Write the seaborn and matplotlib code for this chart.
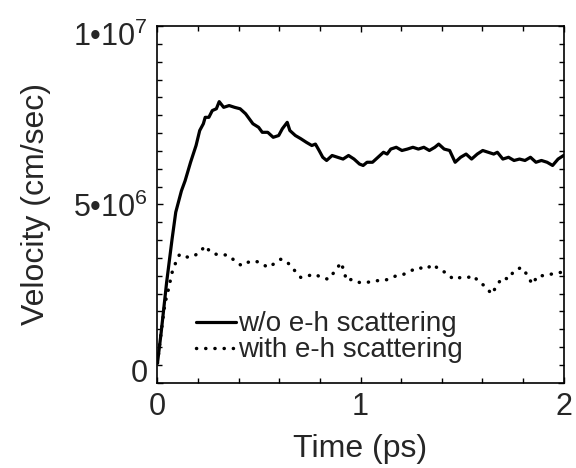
import numpy as np
import pandas as pd
import matplotlib
matplotlib.use("Agg")
import matplotlib.pyplot as plt
from matplotlib.ticker import MultipleLocator
from matplotlib.transforms import ScaledTranslation
from matplotlib.lines import Line2D
import seaborn as sns

# ---- data (velocity in units of 1e6 cm/sec, time in ps) ----
t_wo = [0, 0.018, 0.045, 0.072, 0.09, 0.118, 0.136, 0.163, 0.19, 0.208, 0.226, 0.235,
        0.253, 0.27, 0.29, 0.304, 0.326, 0.353, 0.38, 0.407, 0.434, 0.47, 0.498, 0.516,
        0.543, 0.57, 0.597, 0.615, 0.639, 0.652, 0.679, 0.706, 0.733, 0.76, 0.778, 0.796,
        0.814, 0.833, 0.86, 0.887, 0.914, 0.941, 0.968, 0.995, 1.013, 1.032, 1.059, 1.086,
        1.113, 1.131, 1.149, 1.176, 1.204, 1.231, 1.258, 1.285, 1.312, 1.339, 1.366, 1.385,
        1.412, 1.439, 1.466, 1.493, 1.52, 1.547, 1.575, 1.602, 1.629, 1.656, 1.674, 1.701,
        1.729, 1.756, 1.783, 1.81, 1.837, 1.864, 1.891, 1.919, 1.946, 1.973, 2.0]
v_wo = [0.55, 1.40, 2.81, 4.03, 4.78, 5.38, 5.66, 6.18, 6.65, 7.07, 7.26, 7.44, 7.44, 7.63,
        7.68, 7.88, 7.72, 7.77, 7.72, 7.68, 7.54, 7.26, 7.16, 7.02, 7.02, 6.88, 6.93, 7.12,
        7.30, 7.07, 6.93, 6.84, 6.74, 6.65, 6.69, 6.51, 6.32, 6.23, 6.37, 6.32, 6.27, 6.37,
        6.27, 6.13, 6.09, 6.18, 6.18, 6.32, 6.46, 6.41, 6.55, 6.60, 6.51, 6.55, 6.60, 6.55,
        6.60, 6.51, 6.60, 6.69, 6.55, 6.51, 6.18, 6.32, 6.41, 6.27, 6.41, 6.51, 6.46, 6.41,
        6.46, 6.27, 6.32, 6.23, 6.27, 6.23, 6.32, 6.18, 6.23, 6.18, 6.09, 6.27, 6.37]

t_with = [0, 0.018, 0.036, 0.054, 0.072, 0.09, 0.109, 0.127, 0.154, 0.181, 0.208, 0.235,
          0.262, 0.29, 0.317, 0.353, 0.389, 0.416, 0.443, 0.47, 0.507, 0.543, 0.57, 0.606,
          0.633, 0.67, 0.706, 0.742, 0.778, 0.805, 0.842, 0.869, 0.905, 0.932, 0.959, 0.995,
          1.032, 1.068, 1.104, 1.14, 1.176, 1.213, 1.249, 1.285, 1.321, 1.357, 1.394, 1.421,
          1.457, 1.493, 1.529, 1.557, 1.584, 1.611, 1.647, 1.674, 1.701, 1.729, 1.756, 1.792,
          1.819, 1.846, 1.873, 1.91, 1.937, 1.973, 2.0]
v_with = [0.55, 1.40, 2.20, 2.62, 3.09, 3.37, 3.60, 3.56, 3.51, 3.56, 3.65, 3.84, 3.65,
          3.60, 3.60, 3.56, 3.37, 3.28, 3.37, 3.42, 3.37, 3.23, 3.32, 3.46, 3.42, 3.18, 2.95,
          3.00, 3.04, 2.95, 2.90, 3.09, 3.37, 2.86, 2.90, 2.81, 2.81, 2.86, 2.86, 2.90, 3.00,
          3.04, 3.14, 3.23, 3.18, 3.32, 3.14, 3.09, 2.90, 2.95, 2.95, 3.00, 2.81, 2.72, 2.48,
          2.76, 2.95, 2.90, 3.14, 3.23, 3.04, 2.76, 3.00, 3.00, 3.04, 3.09, 3.09]

labels = ["w/o e-h scattering", "with e-h scattering"]
y_ticks = [0, 5e6, 1e7]
y_ticklabels = ["0", "5\u202210$^{6}$", "1\u202210$^{7}$"]
x_ticks = [0, 1, 2]

df_wo = pd.DataFrame({"t": t_wo, "v": np.array(v_wo) * 1e6})
df_with = pd.DataFrame({"t": t_with, "v": np.array(v_with) * 1e6})

sns.set_theme(style="white")
plt.rcParams["font.family"] = ["Liberation Sans", "DejaVu Sans"]
plt.rcParams["mathtext.fontset"] = "custom"
plt.rcParams["mathtext.rm"] = "Liberation Sans"
plt.rcParams["mathtext.it"] = "Liberation Sans"
plt.rcParams["mathtext.default"] = "regular"

DOTS = (0, (0.05, 2.6))

fig = plt.figure(figsize=(5.76, 4.68), dpi=100)
ax = fig.add_axes([0.2734, 0.1823, 0.705, 0.7621])

sns.lineplot(data=df_wo, x="t", y="v", ax=ax, color="black", linewidth=2.3,
             estimator=None, sort=False)
sns.lineplot(data=df_with, x="t", y="v", ax=ax, color="black", linewidth=2.5,
             estimator=None, sort=False)
ax.lines[1].set_linestyle(DOTS)
ax.lines[1].set_dash_capstyle("round")

ax.set_xlim(0, 2)
ax.set_ylim(0, 1e7)
ax.set_xticks(x_ticks)
ax.set_xticklabels([str(x) for x in x_ticks])
ax.set_yticks(y_ticks)
ax.set_yticklabels(y_ticklabels)
ax.xaxis.set_minor_locator(MultipleLocator(0.2))
ax.yaxis.set_minor_locator(MultipleLocator(5e5))
ax.tick_params(which="both", direction="in", top=True, right=True, bottom=True, left=True,
               color="black", width=1.0)
ax.tick_params(which="major", length=4.5, labelsize=22, pad=7)
ax.tick_params(which="minor", length=3.6)
for s in ax.spines.values():
    s.set_color("black")
    s.set_linewidth(1.2)

ax.set_xlabel("Time (ps)", fontsize=23, labelpad=8)
ax.set_ylabel("Velocity (cm/sec)", fontsize=23, labelpad=16)

# nudge end labels inward as in the reference
ylabs = ax.get_yticklabels()
ylabs[0].set_transform(ylabs[0].get_transform() + ScaledTranslation(0, 0.12, fig.dpi_scale_trans))
ylabs[2].set_transform(ylabs[2].get_transform() + ScaledTranslation(0, -0.08, fig.dpi_scale_trans))

handles = [Line2D([], [], color="black", linewidth=2.3),
           Line2D([], [], color="black", linewidth=2.5, linestyle=DOTS,
                  dash_capstyle="round")]
ax.legend(handles, labels, loc="upper left", bbox_to_anchor=(0.095, 0.2), frameon=False,
          fontsize=20, handlelength=1.45, handletextpad=0.05, labelspacing=0.0,
          borderpad=0, borderaxespad=0)

fig.savefig("out.png", dpi=100)
